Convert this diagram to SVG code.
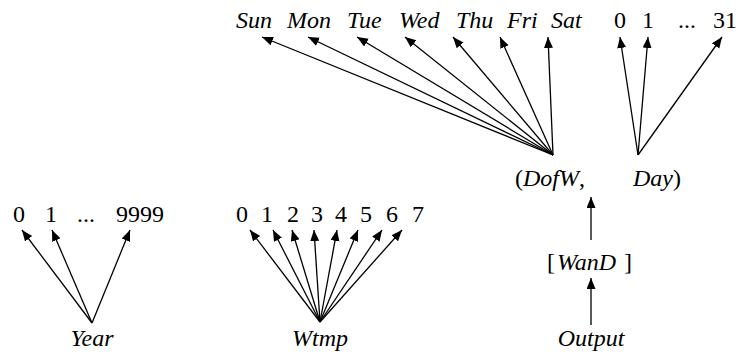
<svg xmlns="http://www.w3.org/2000/svg" width="741" height="354" viewBox="0 0 741 354">
<style>
text{font-family:"Liberation Serif","Times New Roman",serif;font-size:24px;fill:#000}
.i{font-style:italic}
.m{text-anchor:middle}
.e line{stroke:#000;stroke-width:1.3;marker-end:url(#ah)}
</style>
<defs>
<marker id="ah" markerUnits="userSpaceOnUse" markerWidth="12" markerHeight="10" refX="11" refY="4.5" orient="auto">
<path d="M0,0 L11,4.5 L0,9 z" fill="#000"/>
</marker>
</defs>
<g id="days">
<text class="i" x="236" y="28">Sun</text>
<text class="i" x="287" y="28">Mon</text>
<text class="i" x="347" y="28">Tue</text>
<text class="i" x="399" y="28">Wed</text>
<text class="i" x="456" y="28">Thu</text>
<text class="i" x="507" y="28">Fri</text>
<text class="i" x="551" y="28">Sat</text>
</g>
<g id="daynums">
<text class="m" x="620" y="28">0</text>
<text class="m" x="648" y="28">1</text>
<text class="m" x="687" y="28">...</text>
<text class="m" x="725" y="28">31</text>
</g>
<g id="dofw-day">
<text x="515" y="186">(<tspan class="i">DofW</tspan>,</text>
<text x="633" y="186"><tspan class="i">Day</tspan>)</text>
</g>
<g id="wand">
<text x="547" y="270">[</text>
<text class="i" x="557" y="270">WanD</text>
<text x="624" y="270">]</text>
</g>
<g id="output"><text class="i m" x="591" y="346">Output</text></g>
<g id="yearnums">
<text class="m" x="19" y="222">0</text>
<text class="m" x="51" y="222">1</text>
<text class="m" x="86" y="222">...</text>
<text class="m" x="140" y="222">9999</text>
</g>
<g id="year"><text class="i m" x="92" y="346">Year</text></g>
<g id="wtmpnums">
<text class="m" x="242" y="222">0</text>
<text class="m" x="267" y="222">1</text>
<text class="m" x="293" y="222">2</text>
<text class="m" x="317" y="222">3</text>
<text class="m" x="341" y="222">4</text>
<text class="m" x="366" y="222">5</text>
<text class="m" x="392" y="222">6</text>
<text class="m" x="418" y="222">7</text>
</g>
<g id="wtmp"><text class="i m" x="320" y="346">Wtmp</text></g>
<g id="edges" class="e">
<line x1="553" y1="155" x2="262" y2="37"/>
<line x1="553" y1="155" x2="308" y2="37"/>
<line x1="553" y1="155" x2="357" y2="37"/>
<line x1="553" y1="155" x2="405" y2="37"/>
<line x1="553" y1="155" x2="453" y2="37"/>
<line x1="553" y1="155" x2="500" y2="37"/>
<line x1="553" y1="155" x2="548" y2="37"/>
<line x1="638" y1="155" x2="620" y2="37"/>
<line x1="638" y1="155" x2="648" y2="37"/>
<line x1="638" y1="155" x2="722" y2="37"/>
<line x1="591" y1="240" x2="591" y2="197"/>
<line x1="591" y1="325" x2="591" y2="278"/>
<line x1="92" y1="323" x2="22" y2="230"/>
<line x1="92" y1="323" x2="52" y2="230"/>
<line x1="92" y1="323" x2="130" y2="230"/>
<line x1="320" y1="322" x2="250" y2="230"/>
<line x1="320" y1="322" x2="273" y2="230"/>
<line x1="320" y1="322" x2="292" y2="230"/>
<line x1="320" y1="322" x2="314" y2="230"/>
<line x1="320" y1="322" x2="337" y2="230"/>
<line x1="320" y1="322" x2="358" y2="230"/>
<line x1="320" y1="322" x2="382" y2="230"/>
<line x1="320" y1="322" x2="402" y2="230"/>
</g>
</svg>
